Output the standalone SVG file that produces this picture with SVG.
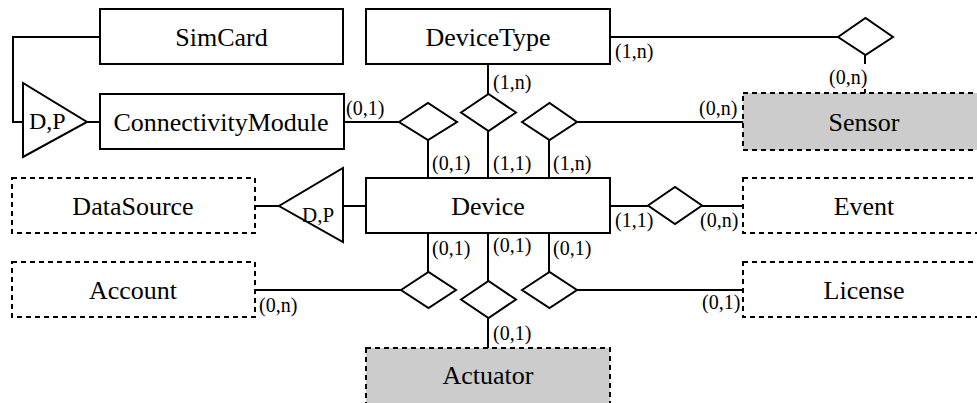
<svg xmlns="http://www.w3.org/2000/svg" width="977" height="403" viewBox="0 0 977 403">
  <style>
    .ent { fill: #ffffff; stroke: #000000; stroke-width: 2; }
    .weak { fill: #ffffff; stroke: #000000; stroke-width: 2; stroke-dasharray: 5 4; }
    .weak-gray { fill: #cccccc; stroke: #000000; stroke-width: 2; stroke-dasharray: 5 4; }
    .rel { fill: #ffffff; stroke: #000000; stroke-width: 2; }
    .line { fill: none; stroke: #000000; stroke-width: 2; }
  </style>
  <rect width="977" height="403" fill="#ffffff"/>

  <!-- connectors -->
  <g id="connectors">
    <polyline class="line" points="100,37 13,37 13,122 23,122"/>
    <line class="line" x1="87" y1="122" x2="100" y2="122"/>
    <line class="line" x1="344" y1="122" x2="399" y2="122"/>
    <line class="line" x1="428" y1="140" x2="428" y2="178"/>
    <line class="line" x1="488" y1="64" x2="488" y2="94"/>
    <line class="line" x1="488" y1="131" x2="488" y2="178"/>
    <line class="line" x1="549" y1="140" x2="549" y2="178"/>
    <line class="line" x1="577" y1="122" x2="743" y2="122"/>
    <line class="line" x1="610" y1="37" x2="838" y2="37"/>
    <line class="line" x1="865" y1="55" x2="865" y2="64"/>
    <line class="line" x1="865" y1="89" x2="865" y2="93"/>
    <line class="line" x1="255" y1="206" x2="279" y2="206"/>
    <line class="line" x1="343" y1="206" x2="366" y2="206"/>
    <line class="line" x1="610" y1="206" x2="648" y2="206"/>
    <line class="line" x1="702" y1="206" x2="743" y2="206"/>
    <line class="line" x1="428" y1="233" x2="428" y2="272"/>
    <line class="line" x1="488" y1="233" x2="488" y2="281"/>
    <line class="line" x1="549" y1="233" x2="549" y2="272"/>
    <line class="line" x1="255" y1="290" x2="401" y2="290"/>
    <line class="line" x1="577" y1="290" x2="743" y2="290"/>
    <line class="line" x1="488" y1="318" x2="488" y2="348"/>
  </g>

  <!-- relationships and specialisations -->
  <g id="isa-connectivity">
    <polygon class="rel" points="23,83 23,157 87,122"/>
    <text x="29" y="129" font-family="Liberation Serif, serif" font-size="24">D,P</text>
  </g>
  <g id="isa-datasource">
    <polygon class="rel" points="343,168 343,242 279,206"/>
    <text x="302" y="222" font-family="Liberation Serif, serif" font-size="21">D,P</text>
  </g>
  <g id="rel-module">
    <polygon class="rel" points="399,122 428,103 457,122 428,140"/>
  </g>
  <g id="rel-type">
    <polygon class="rel" points="461,112.5 488.5,94 516,112.5 488.5,131"/>
  </g>
  <g id="rel-sensor">
    <polygon class="rel" points="522,122 549.5,103 577,122 549.5,140"/>
  </g>
  <g id="rel-type-sensor">
    <polygon class="rel" points="838,37 865.5,18 893,37 865.5,55"/>
  </g>
  <g id="rel-event">
    <polygon class="rel" points="648,205.5 675,187 702,205.5 675,224"/>
  </g>
  <g id="rel-account">
    <polygon class="rel" points="401,290 428.5,272 456,290 428.5,308"/>
  </g>
  <g id="rel-actuator">
    <polygon class="rel" points="461,299.5 488.5,281 516,299.5 488.5,318"/>
  </g>
  <g id="rel-license">
    <polygon class="rel" points="522,290 549.5,272 577,290 549.5,308"/>
  </g>

  <!-- entities -->
  <g font-family="Liberation Serif, serif" font-size="26" text-anchor="middle">
    <g id="simcard">
      <rect class="ent" x="100" y="9" width="243" height="55"/>
      <text x="221.5" y="45.5" font-family="Liberation Serif, serif">SimCard</text>
    </g>
    <g id="connectivitymodule">
      <rect class="ent" x="100" y="94" width="244" height="55"/>
      <text x="221" y="130.5" font-family="Liberation Serif, serif">ConnectivityModule</text>
    </g>
    <g id="devicetype">
      <rect class="ent" x="366" y="9" width="244" height="55"/>
      <text x="488" y="45.5" font-family="Liberation Serif, serif">DeviceType</text>
    </g>
    <g id="sensor">
      <rect class="weak-gray" x="743" y="93" width="244" height="57"/>
      <text x="864" y="130.5" font-family="Liberation Serif, serif">Sensor</text>
    </g>
    <g id="datasource">
      <rect class="weak" x="12" y="178" width="243" height="55"/>
      <text x="133" y="214.5" font-family="Liberation Serif, serif">DataSource</text>
    </g>
    <g id="device">
      <rect class="ent" x="366" y="178" width="244" height="55"/>
      <text x="488" y="214.5" font-family="Liberation Serif, serif">Device</text>
    </g>
    <g id="event">
      <rect class="weak" x="743" y="178" width="244" height="55"/>
      <text x="864" y="214.5" font-family="Liberation Serif, serif">Event</text>
    </g>
    <g id="account">
      <rect class="weak" x="12" y="262" width="243" height="55"/>
      <text x="133" y="298.5" font-family="Liberation Serif, serif">Account</text>
    </g>
    <g id="license">
      <rect class="weak" x="743" y="262" width="244" height="55"/>
      <text x="864" y="298.5" font-family="Liberation Serif, serif">License</text>
    </g>
    <g id="actuator">
      <rect class="weak-gray" x="366" y="348" width="244" height="60"/>
      <text x="488" y="384" font-family="Liberation Serif, serif">Actuator</text>
    </g>
  </g>

  <!-- cardinalities -->
  <g id="cardinalities" font-family="Liberation Serif, serif" font-size="20">
    <text x="346" y="115">(0,1)</text>
    <text x="615" y="58">(1,n)</text>
    <text x="493" y="89">(1,n)</text>
    <text x="829" y="84">(0,n)</text>
    <text x="699" y="115">(0,n)</text>
    <text x="432" y="170">(0,1)</text>
    <text x="493" y="170">(1,1)</text>
    <text x="553" y="170">(1,n)</text>
    <text x="615" y="227">(1,1)</text>
    <text x="700" y="227">(0,n)</text>
    <text x="432" y="255">(0,1)</text>
    <text x="493" y="252">(0,1)</text>
    <text x="553" y="255">(0,1)</text>
    <text x="259" y="312">(0,n)</text>
    <text x="702" y="309">(0,1)</text>
    <text x="493" y="340">(0,1)</text>
  </g>
</svg>
